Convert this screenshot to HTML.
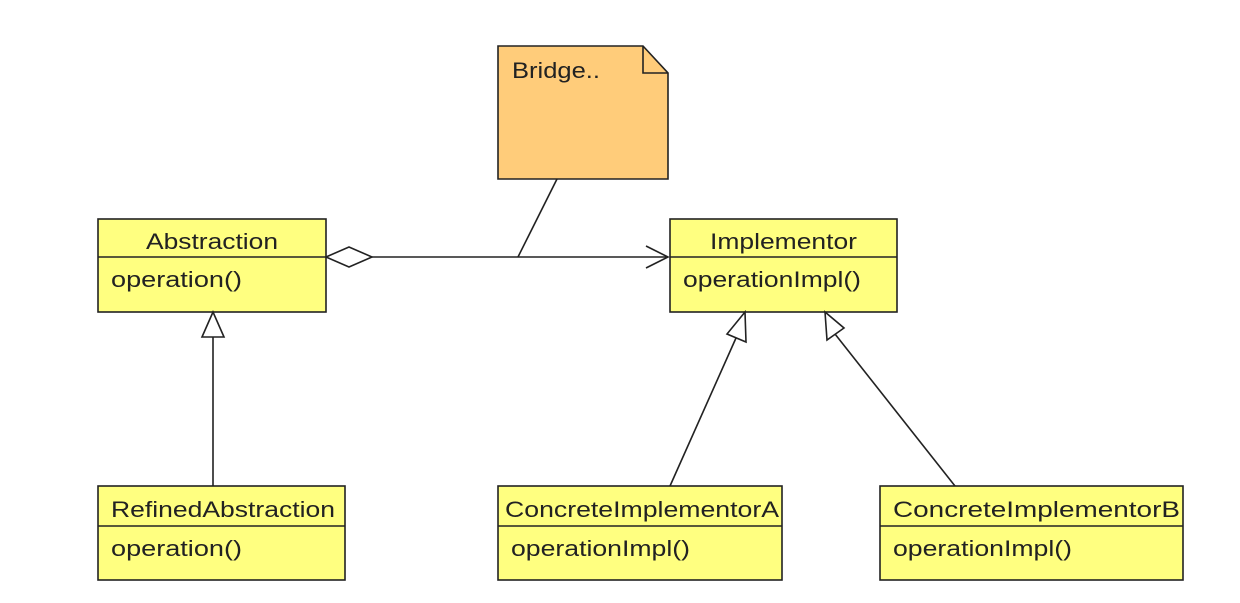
<!DOCTYPE html>
<html><head><style>body{margin:0;background:#fff}</style></head><body>
<svg width="1240" height="598" xmlns="http://www.w3.org/2000/svg" font-family="Liberation Sans, sans-serif" font-size="22" fill="#222">
<g stroke="#222" stroke-width="1.6" fill="#ffff80">
<rect x="98" y="219" width="228" height="93"/><line x1="98" y1="257" x2="326" y2="257"/>
<rect x="670" y="219" width="227" height="93"/><line x1="670" y1="257" x2="897" y2="257"/>
<rect x="98" y="486" width="247" height="94"/><line x1="98" y1="526" x2="345" y2="526"/>
<rect x="498" y="486" width="284" height="94"/><line x1="498" y1="526" x2="782" y2="526"/>
<rect x="880" y="486" width="303" height="94"/><line x1="880" y1="526" x2="1183" y2="526"/>
<path d="M498 46 H643 L668 73 V179 H498 Z" fill="#ffcc7a"/>
<path d="M643 46 V73 H668" fill="none"/>
<path d="M326 257 L349 247 L372 257 L349 267 Z" fill="#fff"/>
<line x1="372" y1="257" x2="668" y2="257"/>
<path d="M646 246 L668 257 L646 268" fill="none"/>
<line x1="557" y1="179" x2="518" y2="257"/>
<path d="M213 312 L202 337 L224 337 Z" fill="#fff"/><line x1="213" y1="337" x2="213" y2="486"/>
<path d="M745 312 L727 334 L746 342 Z" fill="#fff"/><line x1="736" y1="338" x2="670" y2="486"/>
<path d="M825 312 L827 340 L844 328 Z" fill="#fff"/><line x1="835" y1="334" x2="955" y2="486"/>
</g>
<g lengthAdjust="spacingAndGlyphs">
<text x="146" y="249" textLength="132" lengthAdjust="spacingAndGlyphs">Abstraction</text>
<text x="111" y="287" textLength="131" lengthAdjust="spacingAndGlyphs">operation()</text>
<text x="710" y="249" textLength="147" lengthAdjust="spacingAndGlyphs">Implementor</text>
<text x="683" y="287" textLength="178" lengthAdjust="spacingAndGlyphs">operationImpl()</text>
<text x="111" y="517" textLength="224" lengthAdjust="spacingAndGlyphs">RefinedAbstraction</text>
<text x="111" y="556" textLength="131" lengthAdjust="spacingAndGlyphs">operation()</text>
<text x="505" y="517" textLength="274" lengthAdjust="spacingAndGlyphs">ConcreteImplementorA</text>
<text x="511" y="556" textLength="179" lengthAdjust="spacingAndGlyphs">operationImpl()</text>
<text x="893" y="517" textLength="287" lengthAdjust="spacingAndGlyphs">ConcreteImplementorB</text>
<text x="893" y="556" textLength="179" lengthAdjust="spacingAndGlyphs">operationImpl()</text>
<text x="512" y="78" textLength="88" lengthAdjust="spacingAndGlyphs">Bridge..</text>
</g>
</svg>
</body></html>
